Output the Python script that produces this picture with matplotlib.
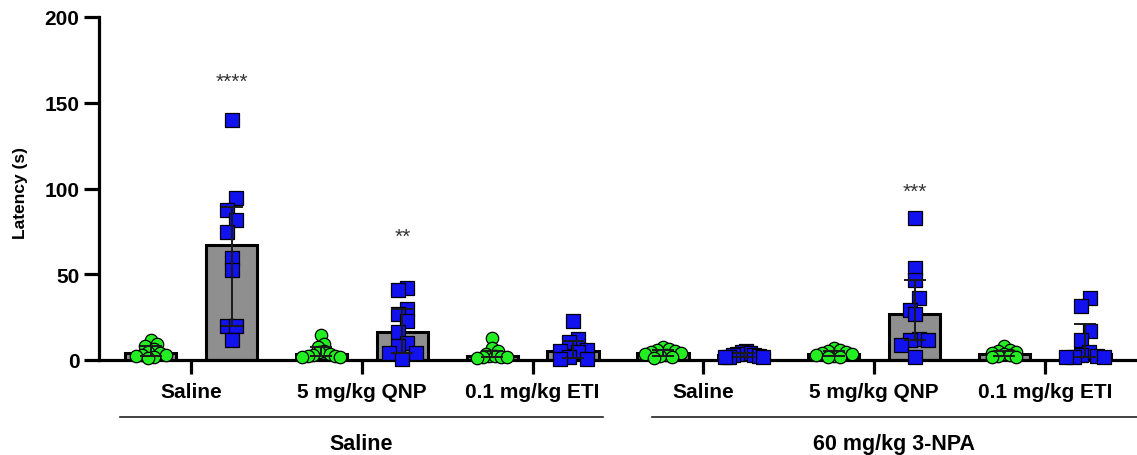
import numpy as np
import matplotlib.pyplot as plt
from matplotlib import transforms
from matplotlib.lines import Line2D

plt.rcParams['font.family'] = ['Liberation Sans', 'DejaVu Sans']

# x categories (pretreatment) and outer groups (3-NPA treatment)
categories = ['Saline', '5 mg/kg QNP', '0.1 mg/kg ETI',
              'Saline', '5 mg/kg QNP', '0.1 mg/kg ETI']
group_names = ['Saline', '60 mg/kg 3-NPA']

# green circles (first test) per category, latency in s
green_vals = [
    [11.8, 9.5, 8.2, 6.5, 4.8, 4.0, 3.2, 2.8, 2.5, 2.0, 1.2],
    [14.5, 9.5, 7.5, 5.0, 4.5, 3.5, 3.0, 2.5, 2.2, 2.0, 1.5],
    [13.0, 7.0, 5.0, 3.5, 2.5, 2.5, 2.0, 1.5, 1.5, 1.2],
    [7.5, 6.5, 6.0, 5.0, 4.5, 4.0, 3.5, 3.0, 2.5, 2.0, 1.0],
    [7.0, 6.0, 5.0, 4.5, 4.0, 3.5, 3.0, 2.5, 2.0, 1.5],
    [8.0, 6.0, 5.0, 4.5, 4.0, 3.5, 3.0, 2.5, 2.0, 1.5],
]
# blue squares (second test) per category
blue_vals = [
    [140.0, 94.3, 87.6, 81.4, 74.8, 59.7, 52.7, 20.0, 20.0, 11.7],
    [41.8, 41.0, 29.7, 26.6, 22.7, 16.5, 9.9, 8.0, 4.1, 4.1, 0.6],
    [23.0, 12.0, 10.3, 5.6, 5.1, 4.5, 1.6, 0.6, 0.6],
    [5.0, 4.5, 4.0, 3.5, 3.0, 3.0, 2.5, 2.0, 2.0, 1.5],
    [82.8, 53.8, 46.8, 36.0, 29.2, 26.8, 12.2, 11.7, 11.7, 8.9, 1.5],
    [36.0, 31.7, 17.1, 11.9, 4.5, 2.9, 2.3, 2.0, 1.5, 1.5],
]
stars = ['****', '**', '', '', '***', '']
star_y = [159, 69, 0, 0, 95, 0]

W, H = 1137, 456
fig = plt.figure(figsize=(W / 100, H / 100), dpi=100)
ax = fig.add_axes([99 / W, 95 / H, 1 - 99 / W, 343 / H])

xmin, xmax = -0.54, 5.54
ymin, ymax = 0, 200
ax.set_xlim(xmin, xmax)
ax.set_ylim(ymin, ymax)
px_x = (W - 99) / (xmax - xmin)
px_y = 343 / (ymax - ymin)

off = 0.237
bw = 0.30
gray = '#8f8f8f'
green = '#22ee22'
blue = '#1212ee'


def spread(vals, step, row_px, max_span=38.0):
    # GraphPad-like scatter: bin points into rows, centre each row,
    # highest value of a row in the middle
    vals = np.asarray(vals, float)
    order = np.argsort(vals)[::-1]
    xs = np.zeros(len(vals))
    rows, cur = [], [order[0]]
    for i in order[1:]:
        if (vals[cur[0]] - vals[i]) * px_y < row_px:
            cur.append(i)
        else:
            rows.append(cur)
            cur = [i]
    rows.append(cur)
    for r in rows:
        n = len(r)
        st = step if n < 2 else min(step, max_span / (n - 1))
        slots = sorted(np.arange(n) - (n - 1) / 2, key=lambda s: (abs(s), -s))
        for s, i in zip(slots, r):
            xs[i] = s * st
    return xs / px_x


def draw(vals, xc, color, marker, size, step, row_px):
    q1, med, q3 = np.percentile(vals, [25, 50, 75], method='weibull')
    ax.bar(xc, med, width=bw, color=gray, edgecolor='black', linewidth=2.2, zorder=1)
    xs = xc + spread(vals, step, row_px)
    ax.scatter(xs, vals, s=size, marker=marker, facecolor=color, edgecolor='black',
               linewidth=0.9, zorder=3, clip_on=False)
    ax.errorbar(xc, med, yerr=[[med - q1], [q3 - med]], fmt='none', ecolor='#1a1a1a',
                elinewidth=1.4, capsize=8, capthick=1.4, zorder=4)


for i in range(len(categories)):
    draw(green_vals[i], i - off, green, 'o', 80, 6.0, 7.0)
    draw(blue_vals[i], i + off, blue, 's', 95, 9.0, 12.0)
    if stars[i]:
        ax.text(i + off, star_y[i], stars[i], ha='center', va='baseline',
                fontsize=15, color='#333333')

for s in ['top', 'right']:
    ax.spines[s].set_visible(False)
for s in ['left', 'bottom']:
    ax.spines[s].set_linewidth(2.3)

ax.set_yticks(np.arange(0, 201, 50))
ax.set_xticks(range(len(categories)))
ax.set_xticklabels(categories)
ax.tick_params(axis='y', length=11, width=2.3, pad=3, labelsize=15)
ax.tick_params(axis='x', length=10, width=2.3, pad=6, labelsize=15)
for lab in ax.get_xticklabels() + ax.get_yticklabels():
    lab.set_fontweight('bold')

fig.text(20 / W, 1 - 193 / H, 'Latency (s)', rotation=90, ha='center', va='center',
         fontsize=12.5, fontweight='bold')

# outer group brackets below the category labels
tr = transforms.blended_transform_factory(ax.transData, fig.transFigure)
spans = [(-0.417, 2.411), (2.698, 5.54)]
for (a, b), name in zip(spans, group_names):
    fig.add_artist(Line2D([a, b], [1 - 418 / H, 1 - 418 / H], transform=tr,
                          color='#222222', linewidth=1.2))
    fig.text((a + b) / 2, 1 - 445 / H, name, transform=tr, ha='center', va='center',
             fontsize=15.5, fontweight='bold')

fig.savefig('out.png', dpi=100)
